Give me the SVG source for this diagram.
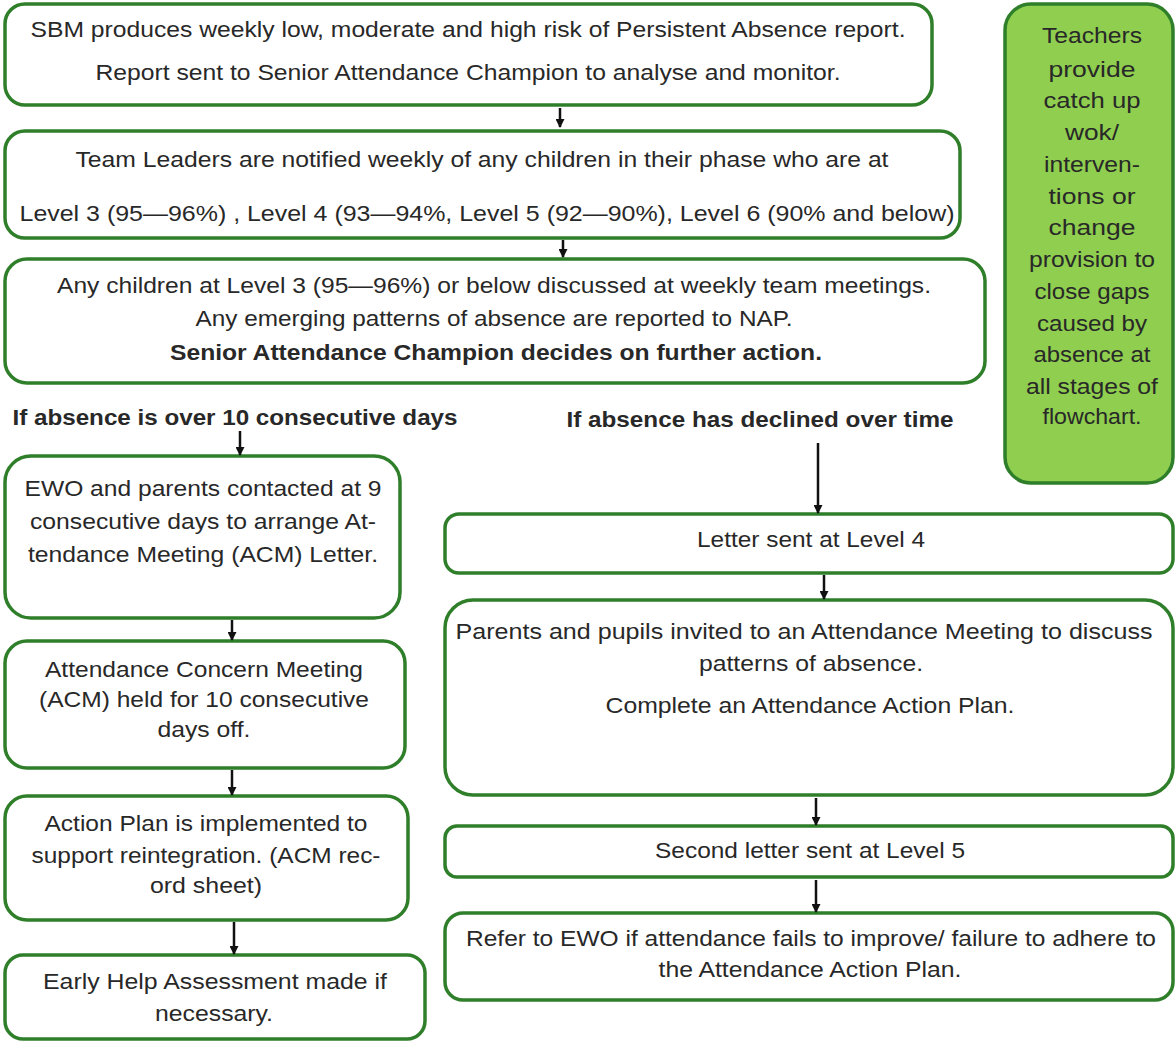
<svg xmlns="http://www.w3.org/2000/svg" width="1176" height="1041" viewBox="0 0 1176 1041">
<style>
.box{fill:#ffffff;stroke:#2f7f2a;stroke-width:3.5}
.side{fill:#8fce4f;stroke:#2f7f2a;stroke-width:3.5}
text{font-family:"Liberation Sans",Arial,sans-serif;font-size:22px;fill:#282828;text-anchor:middle}
.b{font-weight:bold}
.lbl{font-weight:bold}
.conn line{stroke:#111;stroke-width:2.5}
</style>
<defs>
<marker id="arr" markerWidth="9" markerHeight="9" refX="8" refY="4.5" orient="auto" markerUnits="userSpaceOnUse">
<path d="M0,0 L9,4.5 L0,9 Z" fill="#111"/>
</marker>
</defs>
<rect width="1176" height="1041" fill="#ffffff"/>

<g id="n1">
<rect class="box" x="5" y="4" width="927" height="101" rx="20"/>
<text x="468" y="37" textLength="875" lengthAdjust="spacingAndGlyphs">SBM produces weekly low, moderate and high risk of Persistent Absence report.</text>
<text x="468" y="80" textLength="745" lengthAdjust="spacingAndGlyphs">Report sent to Senior Attendance Champion to analyse and monitor.</text>
</g>
<g id="n2">
<rect class="box" x="5" y="131" width="955" height="107" rx="20"/>
<text x="482" y="167" textLength="813" lengthAdjust="spacingAndGlyphs">Team Leaders are notified weekly of any children in their phase who are at</text>
<text x="487" y="221" textLength="935" lengthAdjust="spacingAndGlyphs">Level 3 (95—96%) , Level 4 (93—94%, Level 5 (92—90%), Level 6 (90% and below)</text>
</g>
<g id="n3">
<rect class="box" x="5" y="259" width="980" height="124" rx="22"/>
<text x="494" y="293" textLength="874" lengthAdjust="spacingAndGlyphs">Any children at Level 3 (95—96%) or below discussed at weekly team meetings.</text>
<text x="494" y="326" textLength="597" lengthAdjust="spacingAndGlyphs">Any emerging patterns of absence are reported to NAP.</text>
<text x="496" y="360" class="b" textLength="652" lengthAdjust="spacingAndGlyphs">Senior Attendance Champion decides on further action.</text>
</g>
<g id="side">
<rect class="side" x="1005" y="4" width="168" height="479" rx="26"/>
<text x="1092" y="43" textLength="100" lengthAdjust="spacingAndGlyphs">Teachers</text>
<text x="1092" y="77" textLength="87" lengthAdjust="spacingAndGlyphs">provide</text>
<text x="1092" y="108" textLength="97" lengthAdjust="spacingAndGlyphs">catch up</text>
<text x="1092" y="140" textLength="54" lengthAdjust="spacingAndGlyphs">wok/</text>
<text x="1092" y="172" textLength="96" lengthAdjust="spacingAndGlyphs">interven-</text>
<text x="1092" y="204" textLength="87" lengthAdjust="spacingAndGlyphs">tions or</text>
<text x="1092" y="235" textLength="87" lengthAdjust="spacingAndGlyphs">change</text>
<text x="1092" y="267" textLength="126" lengthAdjust="spacingAndGlyphs">provision to</text>
<text x="1092" y="299" textLength="115" lengthAdjust="spacingAndGlyphs">close gaps</text>
<text x="1092" y="331" textLength="110" lengthAdjust="spacingAndGlyphs">caused by</text>
<text x="1092" y="362" textLength="117" lengthAdjust="spacingAndGlyphs">absence at</text>
<text x="1092" y="394" textLength="132" lengthAdjust="spacingAndGlyphs">all stages of</text>
<text x="1092" y="424" textLength="99" lengthAdjust="spacingAndGlyphs">flowchart.</text>
</g>
<g id="label-left">
<text class="lbl" x="235" y="425" textLength="445" lengthAdjust="spacingAndGlyphs">If absence is over 10 consecutive days</text>
</g>
<g id="label-right">
<text class="lbl" x="760" y="427" textLength="387" lengthAdjust="spacingAndGlyphs">If absence has declined over time</text>
</g>
<g id="l1">
<rect class="box" x="5" y="456" width="395" height="162" rx="26"/>
<text x="203" y="496" textLength="357" lengthAdjust="spacingAndGlyphs">EWO and parents contacted at 9</text>
<text x="203" y="529" textLength="346" lengthAdjust="spacingAndGlyphs">consecutive days to arrange At-</text>
<text x="203" y="562" textLength="350" lengthAdjust="spacingAndGlyphs">tendance Meeting (ACM) Letter.</text>
</g>
<g id="l2">
<rect class="box" x="5" y="641" width="400" height="127" rx="22"/>
<text x="204" y="677" textLength="318" lengthAdjust="spacingAndGlyphs">Attendance Concern Meeting</text>
<text x="204" y="707" textLength="330" lengthAdjust="spacingAndGlyphs">(ACM) held for 10 consecutive</text>
<text x="204" y="737" textLength="93" lengthAdjust="spacingAndGlyphs">days off.</text>
</g>
<g id="l3">
<rect class="box" x="5" y="796" width="403" height="124" rx="22"/>
<text x="206" y="831" textLength="323" lengthAdjust="spacingAndGlyphs">Action Plan is implemented to</text>
<text x="206" y="863" textLength="349" lengthAdjust="spacingAndGlyphs">support reintegration. (ACM rec-</text>
<text x="206" y="893" textLength="112" lengthAdjust="spacingAndGlyphs">ord sheet)</text>
</g>
<g id="l4">
<rect class="box" x="5" y="955" width="420" height="84" rx="18"/>
<text x="215" y="989" textLength="344" lengthAdjust="spacingAndGlyphs">Early Help Assessment made if</text>
<text x="214" y="1021" textLength="118" lengthAdjust="spacingAndGlyphs">necessary.</text>
</g>
<g id="r1">
<rect class="box" x="445" y="514" width="728" height="59" rx="14"/>
<text x="811" y="547" textLength="228" lengthAdjust="spacingAndGlyphs">Letter sent at Level 4</text>
</g>
<g id="r2">
<rect class="box" x="445" y="600" width="728" height="195" rx="28"/>
<text x="804" y="639" textLength="697" lengthAdjust="spacingAndGlyphs">Parents and pupils invited to an Attendance Meeting to discuss</text>
<text x="811" y="671" textLength="224" lengthAdjust="spacingAndGlyphs">patterns of absence.</text>
<text x="810" y="713" textLength="409" lengthAdjust="spacingAndGlyphs">Complete an Attendance Action Plan.</text>
</g>
<g id="r3">
<rect class="box" x="445" y="826" width="728" height="51" rx="12"/>
<text x="810" y="858" textLength="310" lengthAdjust="spacingAndGlyphs">Second letter sent at Level 5</text>
</g>
<g id="r4">
<rect class="box" x="445" y="913" width="728" height="87" rx="18"/>
<text x="811" y="946" textLength="690" lengthAdjust="spacingAndGlyphs">Refer to EWO if attendance fails to improve/ failure to adhere to</text>
<text x="810" y="977" textLength="303" lengthAdjust="spacingAndGlyphs">the Attendance Action Plan.</text>
</g>

<g class="conn" id="connectors">
<line x1="560" y1="108" x2="560" y2="127" marker-end="url(#arr)"/>
<line x1="563" y1="240" x2="563" y2="257" marker-end="url(#arr)"/>
<line x1="240" y1="431" x2="240" y2="455" marker-end="url(#arr)"/>
<line x1="232" y1="620" x2="232" y2="640" marker-end="url(#arr)"/>
<line x1="232" y1="770" x2="232" y2="795" marker-end="url(#arr)"/>
<line x1="234" y1="922" x2="234" y2="954" marker-end="url(#arr)"/>
<line x1="818" y1="443" x2="818" y2="513" marker-end="url(#arr)"/>
<line x1="824" y1="575" x2="824" y2="599" marker-end="url(#arr)"/>
<line x1="816" y1="798" x2="816" y2="825" marker-end="url(#arr)"/>
<line x1="816" y1="880" x2="816" y2="912" marker-end="url(#arr)"/>
</g>
</svg>
